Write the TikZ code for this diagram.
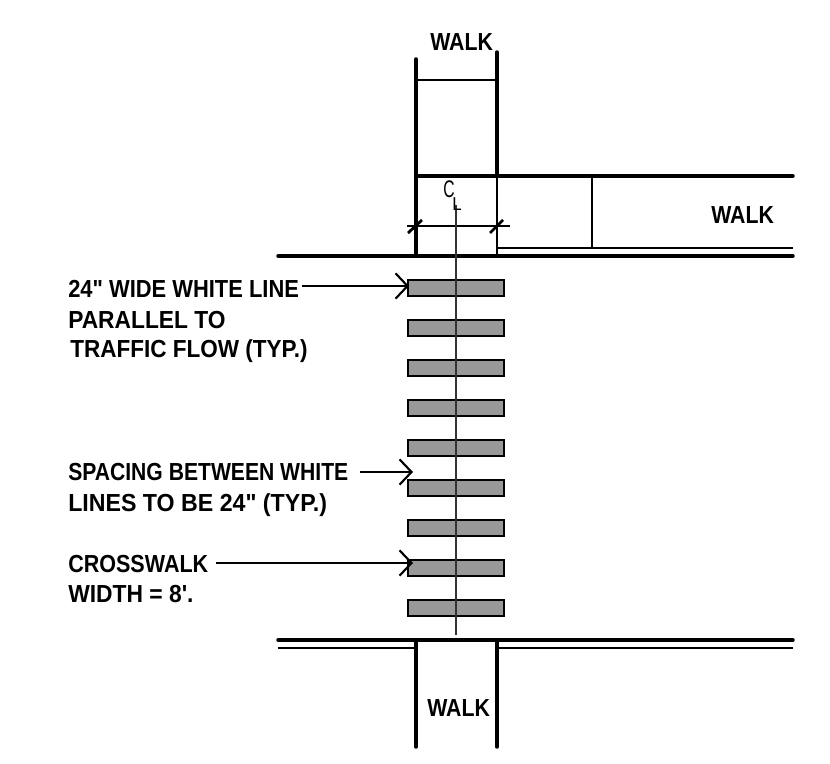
\documentclass[tikz,border=0pt]{standalone}
\usepackage{graphicx}
\usepackage{fontspec}
\usetikzlibrary{arrows.meta}
\newfontfamily\lblfont{Liberation Sans}
\newcommand{\fitw}[2]{\resizebox{#1pt}{\height}{\lblfont\bfseries #2}}
\tikzset{
  thick line/.style={line width=2.6pt,line cap=round},
  mid line/.style={line width=2.1pt},
  thin line/.style={line width=1.2pt},
  bar/.style={draw=black,fill=black!40,line width=1.7pt,minimum width=72pt,minimum height=12.2pt,inner sep=0pt,rectangle},
  lbl/.style={anchor=base west,inner sep=0pt,font=\fontsize{18.5}{20}\selectfont},
  lead/.style={line width=1.6pt,-{Straight Barb[length=9pt,width=19pt,line width=1.6pt]}}
}
\begin{document}
\begin{tikzpicture}[x=0.75pt,y=-0.75pt]
\useasboundingbox (0,0) rectangle (830,763);
% crossing lines
\foreach \i in {0,...,8}{
  \node[bar] (b\i) at (456,{287.8+40*\i}) {};
}
% upper walk
\draw[thick line] (416,59) -- (416,256);
\draw[thick line] (497,52) -- (497,176);
\draw[thin line] (497,176) -- (497,256);
\draw[mid line] (416,80) -- (497,80);
\draw[thick line] (416,176) -- (793,176);
\draw[thick line] (278,256) -- (793,256);
\draw[mid line] (497,248) -- (793,248);
\draw[thin line] (592,176) -- (592,248);
% dimension
\draw[thin line] (407,226) -- (510,226);
\draw[mid line] (408,233) -- (422,220);
\draw[mid line] (490,233) -- (503,220);
% centre line
\coordinate (cltop) at (456,205);
\coordinate (clbot) at (456,635);
\draw[thin line,black!80] (cltop) -- (clbot);
\node[anchor=base west,inner sep=0pt,font=\fontsize{18}{20}\selectfont] (clc) at (443,197) {\resizebox{8.5pt}{\height}{\lblfont C}};
\node[anchor=base west,inner sep=0pt,font=\fontsize{14}{16}\selectfont] (cll) at (452,210) {\resizebox{7pt}{\height}{\lblfont L}};
% lower walk
\draw[thick line] (278,640) -- (793,640);
\draw[mid line] (278,648) -- (416,648);
\draw[mid line] (497,648) -- (793,648);
\draw[thick line] (416,640) -- (416,747);
\draw[thick line] (497,640) -- (497,747);
% texts
\node[lbl] (t1) at (68,297) {\fitw{173}{24" WIDE WHITE LINE}};
\node[lbl] (t2) at (68,328) {\fitw{118}{PARALLEL TO}};
\node[lbl] (t3) at (70,357) {\fitw{178}{TRAFFIC FLOW (TYP.)}};
\node[lbl] (t4) at (68,480) {\fitw{210}{SPACING BETWEEN WHITE}};
\node[lbl] (t5) at (68,511) {\fitw{194}{LINES TO BE 24" (TYP.)}};
\node[lbl] (t6) at (68,572) {\fitw{105}{CROSSWALK}};
\node[lbl] (t7) at (68,602) {\fitw{94}{WIDTH = 8'.}};
\node[lbl] (w1) at (430,51) {\fitw{47}{WALK}};
\node[lbl] (w2) at (711,223) {\fitw{47}{WALK}};
\node[lbl] (w3) at (427,716) {\fitw{47}{WALK}};
% leaders
\coordinate (a1s) at (302,286);
\coordinate (a1e) at (409,286);
\coordinate (a2s) at (360,472);
\coordinate (a2e) at (413,472);
\coordinate (a3s) at (216,563);
\coordinate (a3e) at (413,563);
\draw[lead] (a1s) -- (a1e);
\draw[lead] (a2s) -- (a2e);
\draw[lead] (a3s) -- (a3e);
\end{tikzpicture}
\end{document}
